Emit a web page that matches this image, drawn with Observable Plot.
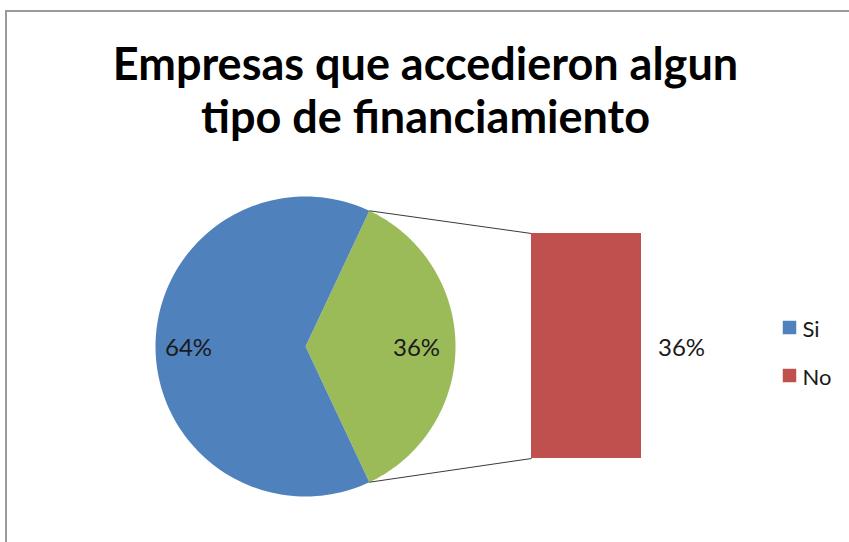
<!DOCTYPE html>
<html>
<head>
<meta charset="utf-8">
<script src="https://cdn.jsdelivr.net/npm/d3@7"></script>
<script src="https://cdn.jsdelivr.net/npm/@observablehq/plot@0.6"></script>
<style>
  html, body { margin: 0; padding: 0; background: #fff; }
  #wrap { position: relative; width: 849px; height: 542px; overflow: hidden; }
  #border { position: absolute; left: 5px; top: 10px; width: 900px; height: 600px;
            border-left: 2px solid #9a9a9a; border-top: 2px solid #9a9a9a; box-sizing: border-box; }
  #chart { position: absolute; left: 0; top: 0; }
</style>
</head>
<body>
<div id="wrap"><div id="border"></div><div id="chart"></div></div>
<script>
// ---- data ----
const titleLines = ["Empresas que accedieron algun", "tipo de financiamiento"];
const categories = ["Si", "No"];
const values = [64, 36];               // percentages
const legendLabels = ["Si", "No"];
const colors = { Si: "#4F81BD", No: "#9BBB59", bar: "#C0504D" };

// ---- layout ----
const W = 849, H = 542;
const cx = 305, cy = 346, R = 150;
const barX1 = 531, barX2 = 641, barTop = 233, barBottom = 458;

// pie: the split slice ("No") is centered at 3 o'clock
const splitFrac = values[1] / d3.sum(values);
const start = Math.PI / 2 - Math.PI * splitFrac;
const pieData = [
  { cat: "No", value: values[1] },
  { cat: "Si", value: values[0] }
];
const arcs = d3.pie().sort(null).value(d => d.value).startAngle(start).endAngle(start + 2 * Math.PI)(pieData);
const px = a => cx + R * Math.sin(a);
const py = a => cy - R * Math.cos(a);

const slicePts = [];
for (const a of arcs) {
  slicePts.push({ cat: a.data.cat, x: cx, y: cy });
  const n = 120;
  for (let i = 0; i <= n; i++) {
    const t = a.startAngle + (a.endAngle - a.startAngle) * i / n;
    slicePts.push({ cat: a.data.cat, x: px(t), y: py(t) });
  }
}

const total = d3.sum(values);
const fmt = v => Math.round(v / total * 100) + "%";
const labelData = arcs.map(a => {
  const mid = (a.startAngle + a.endAngle) / 2;
  const k = a.data.cat === "Si" ? 0.78 : 0.74;
  return { x: cx + R * k * Math.sin(mid), y: cy + 2 - R * k * Math.cos(mid), text: fmt(a.data.value) };
});

// secondary bar: only "No" item, fills full bar
const barScale = d3.scaleLinear().domain([0, values[1]]).range([barBottom, barTop]);
const barData = [{ cat: "No", value: values[1] }];

const split = arcs.find(a => a.data.cat === "No");
const links = [
  { x1: px(split.startAngle), y1: py(split.startAngle), x2: barX1, y2: barTop },
  { x1: px(split.endAngle), y1: py(split.endAngle), x2: barX1, y2: barBottom }
];

const legendData = legendLabels.map((l, i) => ({ label: l, i, color: i === 0 ? colors.Si : colors.bar }));

const font = "Lato, 'Open Sans', sans-serif";

const plot = Plot.plot({
  width: W, height: H, margin: 0,
  x: { domain: [0, W], range: [0, W], axis: null },
  y: { domain: [0, H], range: [0, H], axis: null },
  style: { fontFamily: font, background: "transparent", overflow: "visible" },
  marks: [
    Plot.text(titleLines, {
      x: 425, y: (d, i) => 79 + i * 53, text: d => d,
      fontSize: 45, fontWeight: "bold", fill: "#000", textAnchor: "middle", lineAnchor: "bottom"
    }),
    Plot.line(slicePts, { x: "x", y: "y", z: "cat", fill: d => colors[d.cat], stroke: "none", curve: "linear" }),
    Plot.link(links, { x1: "x1", y1: "y1", x2: "x2", y2: "y2", stroke: "#3a3a3a", strokeWidth: 1 }),
    Plot.rect(barData, { x1: barX1, x2: barX2, y1: d => barScale(0), y2: d => barScale(d.value), fill: colors.bar }),
    Plot.text(labelData, { x: "x", y: "y", text: "text", fontSize: 24, fill: "#1a1a1a", lineAnchor: "middle" }),
    Plot.text(barData, { x: 681, y: d => 2 + (barScale(0) + barScale(d.value)) / 2, text: d => fmt(d.value), fontSize: 24, fill: "#1a1a1a", lineAnchor: "middle" }),
    Plot.dot(legendData, { x: 789, y: d => 327 + d.i * 48, symbol: "square", r: 7.6, fill: "color", stroke: "none" }),
    Plot.text(legendData, { x: 802, y: d => 336 + d.i * 48, text: "label", fontSize: 22, fill: "#1a1a1a", textAnchor: "start", lineAnchor: "bottom" })
  ]
});
document.getElementById("chart").appendChild(plot);
</script>
</body>
</html>
